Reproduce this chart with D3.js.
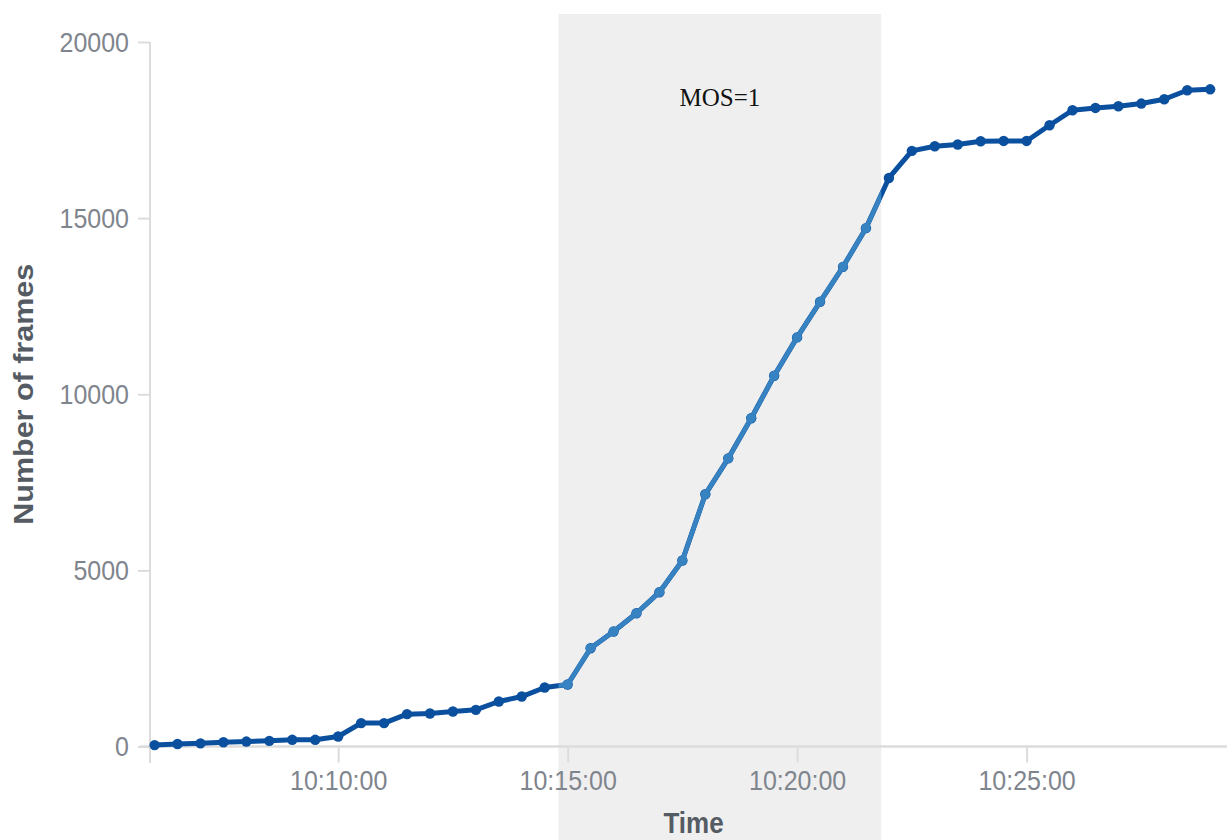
<!DOCTYPE html>
<html>
<head>
<meta charset="utf-8">
<script src="https://cdn.jsdelivr.net/npm/d3@7/dist/d3.min.js"></script>
<style>
    body { margin: 0; background: #fff; }
    svg { display: block; font-family: 'Liberation Sans', Arial, sans-serif; }
    .tick-label { fill: #7f858d; font-size: 25px; transform-box: fill-box; transform-origin: center; transform: scaleY(1.12); }
    .axis-title { fill: #555b63; font-size: 26px; font-weight: bold; }
</style>
</head>
<body>
<svg id="chart" width="1227" height="840"></svg>
<script>
const times = ['10:06:00', '10:06:30', '10:07:00', '10:07:30', '10:08:00', '10:08:30', '10:09:00', '10:09:30',
    '10:10:00', '10:10:30', '10:11:00', '10:11:30', '10:12:00', '10:12:30', '10:13:00', '10:13:30',
    '10:14:00', '10:14:30', '10:15:00', '10:15:30', '10:16:00', '10:16:30', '10:17:00', '10:17:30',
    '10:18:00', '10:18:30', '10:19:00', '10:19:30', '10:20:00', '10:20:30', '10:21:00', '10:21:30',
    '10:22:00', '10:22:30', '10:23:00', '10:23:30', '10:24:00', '10:24:30', '10:25:00', '10:25:30',
    '10:26:00', '10:26:30', '10:27:00', '10:27:30', '10:28:00', '10:28:30', '10:29:00']
const frames = [40, 70, 90, 120, 140, 160, 190, 190,
    284, 664, 664, 919, 936, 993, 1041, 1277,
    1418, 1674, 1760, 2790, 3263, 3783, 4380, 5280,
    7160, 8180, 9320, 10525, 11614, 12624, 13617, 14715,
    16140, 16908, 17041, 17089, 17182, 17191, 17191, 17637,
    18062, 18128, 18176, 18252, 18374, 18629, 18657]
const yTicks = [0, 5000, 10000, 15000, 20000]
const xTicks = ['10:10:00', '10:15:00', '10:20:00', '10:25:00']
const timeDomain = ['10:05:54', '10:29:22']
const highlight = ['10:14:48', '10:21:50']
const highlightLabel = 'MOS=1'

const parseTime = d3.timeParse('%H:%M:%S')
const formatTime = d3.timeFormat('%H:%M:%S')

const svg = d3.select('#chart')
const plotLeft = 150, plotRight = 1227, plotTop = 42, plotBottom = 746.5

const x = d3.scaleTime()
    .domain(timeDomain.map(parseTime))
    .range([plotLeft, plotRight])
const y = d3.scaleLinear()
    .domain([0, 20000])
    .range([plotBottom, plotTop])

const data = times.map((t, i) => ({ time: parseTime(t), value: frames[i] }))

// shaded period
const hx0 = x(parseTime(highlight[0])), hx1 = x(parseTime(highlight[1]))
svg.append('rect')
    .attr('x', hx0)
    .attr('y', 14)
    .attr('width', hx1 - hx0)
    .attr('height', 840 - 14)
    .attr('fill', '#efefef')

svg.append('clipPath').attr('id', 'hl-clip')
    .append('rect')
    .attr('x', hx0).attr('y', 0)
    .attr('width', hx1 - hx0).attr('height', 840)

// axes
const yAxis = svg.append('g')
    .attr('transform', `translate(${plotLeft},0)`)
    .call(d3.axisLeft(y).tickValues(yTicks).tickSize(12).tickPadding(9).tickFormat(d3.format('d')))
const xAxis = svg.append('g')
    .attr('transform', `translate(0,${plotBottom})`)
    .call(d3.axisBottom(x).tickValues(xTicks.map(parseTime)).tickSize(16).tickPadding(9).tickFormat(formatTime))

;[yAxis, xAxis].forEach(axis => {
    axis.attr('font-family', null).attr('font-size', null)
    axis.select('.domain').remove()
    axis.selectAll('line').attr('stroke', '#dcdcdc').attr('stroke-width', 2)
    axis.selectAll('text').attr('class', 'tick-label').attr('fill', null)
})

svg.append('line')
    .attr('x1', plotLeft).attr('x2', plotLeft)
    .attr('y1', y(20000)).attr('y2', 763)
    .attr('stroke', '#dcdcdc').attr('stroke-width', 2)
svg.append('line')
    .attr('x1', plotLeft - 10).attr('x2', plotRight)
    .attr('y1', y(0)).attr('y2', y(0))
    .attr('stroke', '#dcdcdc').attr('stroke-width', 2.5)

svg.append('text')
    .attr('class', 'axis-title')
    .attr('text-anchor', 'middle')
    .attr('font-size', 27)
    .style('font-size', '27px')
    .attr('transform', `translate(33,${(plotTop + plotBottom) / 2}) rotate(-90) scale(1.13,1)`)
    .text('Number of frames')

svg.append('text')
    .attr('class', 'axis-title')
    .attr('text-anchor', 'middle')
    .attr('transform', `translate(${(plotLeft + plotRight) / 2 + 5},833) scale(1,1.1)`)
    .text('Time')

// series
const line = d3.line()
    .x(d => x(d.time))
    .y(d => y(d.value))

function drawSeries(g, color, width, r) {
    g.append('path')
        .datum(data)
        .attr('fill', 'none')
        .attr('stroke', color)
        .attr('stroke-width', width)
        .attr('stroke-linejoin', 'round')
        .attr('d', line)
    g.selectAll('circle')
        .data(data)
        .enter().append('circle')
        .attr('cx', d => x(d.time))
        .attr('cy', d => y(d.value))
        .attr('r', r)
        .attr('fill', color)
}

drawSeries(svg.append('g'), '#0b4f9f', 5, 5.2)
drawSeries(svg.append('g').attr('clip-path', 'url(#hl-clip)'), '#3783c2', 4.5, 4.8)

svg.append('text')
    .attr('x', (hx0 + hx1) / 2)
    .attr('y', 106)
    .attr('text-anchor', 'middle')
    .attr('font-family', "'Liberation Serif', 'Times New Roman', serif")
    .attr('font-size', 25)
    .attr('fill', '#111')
    .text(highlightLabel)
</script>
</body>
</html>
